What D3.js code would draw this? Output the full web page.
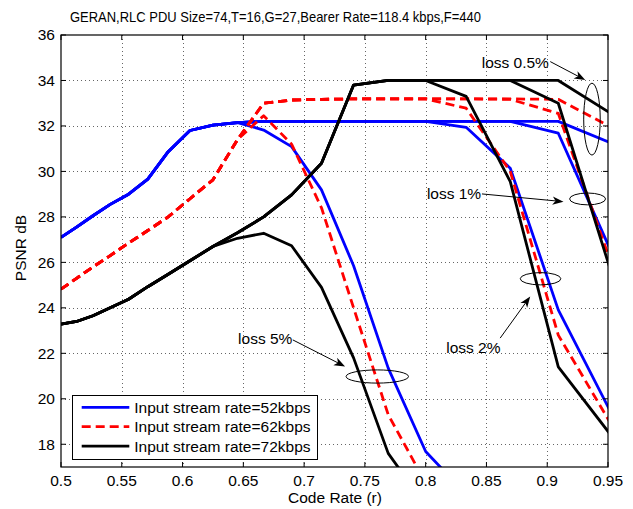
<!DOCTYPE html>
<html lang="en">
<head>
<meta charset="UTF-8">
<title>GERAN PSNR vs Code Rate</title>
<script src="https://d3js.org/d3.v7.min.js"></script>
<style>
  body { margin: 0; background: #fff; }
  svg text { font-family: "Liberation Sans", Arial, Helvetica, sans-serif; fill: #000; }
</style>
</head>
<body>
<div id="chart"></div>
<script>
// code rates 20/n, n = 40 ... 21
const codeRate = [0.5, 0.5128, 0.5263, 0.5405, 0.5556, 0.5714, 0.5882, 0.6061, 0.625, 0.6452,
                  0.6667, 0.6897, 0.7143, 0.7407, 0.7692, 0.8, 0.8333, 0.8696, 0.9091, 0.9524];

// PSNR (dB) per stream rate and loss rate
const blue05 = [27.1, 27.55, 28.05, 28.55, 29.0, 29.66, 30.87, 31.8, 32.04, 32.15, 32.2, 32.2, 32.2, 32.2, 32.2, 32.2, 32.2, 32.2, 32.2, 31.25];
const blue1  = [27.1, 27.55, 28.05, 28.55, 29.0, 29.66, 30.87, 31.8, 32.04, 32.15, 32.2, 32.2, 32.2, 32.2, 32.2, 32.2, 32.2, 32.2, 31.68, 26.5];
const blue2  = [27.1, 27.55, 28.05, 28.55, 29.0, 29.66, 30.87, 31.8, 32.04, 32.15, 32.2, 32.2, 32.2, 32.2, 32.2, 32.2, 31.94, 30.14, 23.91, 19.4];
const blue5  = [27.1, 27.55, 28.05, 28.55, 29.0, 29.66, 30.87, 31.8, 32.04, 32.15, 31.82, 31.09, 29.19, 25.85, 21.35, 17.68, 15.8, null, null, null];

const red05 = [24.82, 25.3, 25.8, 26.3, 26.85, 27.4, 28.0, 28.8, 29.63, 31.4, 33.0, 33.14, 33.17, 33.19, 33.19, 33.19, 33.19, 33.19, 33.17, 31.95];
const red1  = [24.82, 25.3, 25.8, 26.3, 26.85, 27.4, 28.0, 28.8, 29.63, 31.4, 33.0, 33.14, 33.17, 33.19, 33.19, 33.19, 33.19, 33.17, 32.55, 26.0];
const red2  = [24.82, 25.3, 25.8, 26.3, 26.85, 27.4, 28.0, 28.8, 29.63, 31.4, 33.0, 33.14, 33.17, 33.19, 33.19, 33.19, 32.78, 30.0, 22.8, 18.9];
const red5  = [24.82, 25.3, 25.8, 26.3, 26.85, 27.4, 28.0, 28.8, 29.63, 31.4, 32.45, 31.2, 28.4, 24.0, 19.3, 16.3, null, null, null, null];

const black05 = [23.28, 23.4, 23.65, 24.0, 24.38, 24.93, 25.48, 26.07, 26.7, 27.3, 28.0, 28.97, 30.36, 33.8, 34.0, 34.0, 34.0, 34.0, 34.0, 32.55];
const black1  = [23.28, 23.4, 23.65, 24.0, 24.38, 24.93, 25.48, 26.07, 26.7, 27.3, 28.0, 28.97, 30.36, 33.8, 34.0, 34.0, 34.0, 34.0, 33.0, 25.6];
const black2  = [23.28, 23.4, 23.65, 24.0, 24.38, 24.93, 25.48, 26.07, 26.7, 27.3, 28.0, 28.97, 30.36, 33.8, 34.0, 34.0, 33.3, 29.55, 21.4, 18.4];
const black5  = [23.28, 23.4, 23.65, 24.0, 24.38, 24.93, 25.48, 26.07, 26.7, 27.06, 27.28, 26.73, 24.9, 21.8, 17.6, 15.3, null, null, null, null];

const xTicks = [0.5, 0.55, 0.6, 0.65, 0.7, 0.75, 0.8, 0.85, 0.9, 0.95];
const yTicks = [18, 20, 22, 24, 26, 28, 30, 32, 34, 36];
const legendLabels = ["Input stream rate=52kbps", "Input stream rate=62kbps", "Input stream rate=72kbps"];

// annotation: label position, arrow start/tip, ellipse centre and radii (data units)
const lossLabels = ["loss 0.5%", "loss 1%", "loss 2%", "loss 5%"];
const labelPos   = [[0.8461, 34.54], [0.8010, 28.79], [0.8169, 22.02], [0.6457, 22.42]];
const arrowFrom  = [[0.9025, 34.83], [0.8463, 29.01], [0.8613, 22.67], [0.6907, 22.59]];
const arrowTo    = [[0.9313, 34.02], [0.9134, 28.67], [0.8860, 24.50], [0.7337, 21.42]];
const ellipseC   = [[0.9368, 32.30], [0.9332, 28.79], [0.8945, 25.28], [0.7602, 20.98]];
const ellipseR   = [[0.0068, 1.58], [0.0148, 0.26], [0.0167, 0.27], [0.0257, 0.29]];

const width = 633, height = 509;
const margin = {left: 61, right: 25, top: 35, bottom: 42};

const svg = d3.select("#chart").append("svg")
    .attr("width", width)
    .attr("height", height);

const x = d3.scaleLinear().domain([0.5, 0.95]).range([margin.left, width - margin.right]);
const y = d3.scaleLinear().domain([17, 36]).range([height - margin.bottom, margin.top]);

const fontSize = 15.5;

// grid
const grid = svg.append("g").attr("stroke", "#666").attr("stroke-width", 1).attr("stroke-dasharray", "1,3");
grid.selectAll("line.gx").data(xTicks.slice(1, -1)).enter().append("line")
    .attr("x1", d => Math.round(x(d)) + 0.5).attr("x2", d => Math.round(x(d)) + 0.5)
    .attr("y1", y(36)).attr("y2", y(17));
grid.selectAll("line.gy").data(yTicks.slice(0, -1)).enter().append("line")
    .attr("y1", d => Math.round(y(d)) + 0.5).attr("y2", d => Math.round(y(d)) + 0.5)
    .attr("x1", x(0.5)).attr("x2", x(0.95));

// clip for data lines
svg.append("clipPath").attr("id", "plot-clip").append("rect")
    .attr("x", x(0.5)).attr("y", y(36))
    .attr("width", x(0.95) - x(0.5)).attr("height", y(17) - y(36));

const line = d3.line()
    .defined(d => d[1] !== null)
    .x(d => x(d[0]))
    .y(d => y(d[1]));

const series = [
    {v: blue05, c: "#0000ff", dash: null},
    {v: blue1, c: "#0000ff", dash: null},
    {v: blue2, c: "#0000ff", dash: null},
    {v: blue5, c: "#0000ff", dash: null},
    {v: red05, c: "#ff0000", dash: "9,5"},
    {v: red1, c: "#ff0000", dash: "9,5"},
    {v: red2, c: "#ff0000", dash: "9,5"},
    {v: red5, c: "#ff0000", dash: "9,5"},
    {v: black05, c: "#000000", dash: null},
    {v: black1, c: "#000000", dash: null},
    {v: black2, c: "#000000", dash: null},
    {v: black5, c: "#000000", dash: null}
];

const plot = svg.append("g").attr("clip-path", "url(#plot-clip)");
plot.selectAll("path").data(series).enter().append("path")
    .attr("d", s => line(codeRate.map((r, i) => [r, s.v[i]])))
    .attr("fill", "none")
    .attr("stroke", s => s.c)
    .attr("stroke-width", 2.8)
    .attr("stroke-linejoin", "round")
    .attr("stroke-dasharray", s => s.dash);

// axes box
svg.append("rect")
    .attr("x", x(0.5)).attr("y", y(36))
    .attr("width", x(0.95) - x(0.5)).attr("height", y(17) - y(36))
    .attr("fill", "none").attr("stroke", "#000").attr("stroke-width", 1.2);

const tickLen = 5;
const ticks = svg.append("g").attr("stroke", "#000").attr("stroke-width", 1);
xTicks.forEach(t => {
    ticks.append("line").attr("x1", x(t)).attr("x2", x(t)).attr("y1", y(17)).attr("y2", y(17) - tickLen);
    ticks.append("line").attr("x1", x(t)).attr("x2", x(t)).attr("y1", y(36)).attr("y2", y(36) + tickLen);
});
yTicks.forEach(t => {
    ticks.append("line").attr("y1", y(t)).attr("y2", y(t)).attr("x1", x(0.5)).attr("x2", x(0.5) + tickLen);
    ticks.append("line").attr("y1", y(t)).attr("y2", y(t)).attr("x1", x(0.95)).attr("x2", x(0.95) - tickLen);
});

// tick labels
svg.append("g").selectAll("text").data(xTicks).enter().append("text")
    .attr("x", d => x(d)).attr("y", y(17) + 18.5)
    .attr("text-anchor", "middle").attr("font-size", fontSize)
    .text(d => d);
svg.append("g").selectAll("text").data(yTicks).enter().append("text")
    .attr("x", x(0.5) - 6).attr("y", d => y(d)).attr("dy", "0.35em")
    .attr("text-anchor", "end").attr("font-size", fontSize)
    .text(d => d);

// titles
svg.append("text").attr("x", 70).attr("y", 21.5).attr("font-size", 15)
    .attr("textLength", 411).attr("lengthAdjust", "spacingAndGlyphs")
    .text("GERAN,RLC PDU Size=74,T=16,G=27,Bearer Rate=118.4 kbps,F=440");
svg.append("text").attr("x", 335).attr("y", 503).attr("text-anchor", "middle").attr("font-size", fontSize)
    .text("Code Rate (r)");
svg.append("text").attr("transform", "translate(26,248) rotate(-90)").attr("text-anchor", "middle")
    .attr("font-size", fontSize).text("PSNR dB");

// annotations
const ann = svg.append("g");
lossLabels.forEach((lab, i) => {
    ann.append("text").attr("x", x(labelPos[i][0])).attr("y", y(labelPos[i][1]))
        .attr("font-size", fontSize).text(lab);
    ann.append("ellipse")
        .attr("cx", x(ellipseC[i][0])).attr("cy", y(ellipseC[i][1]))
        .attr("rx", x(0.5 + ellipseR[i][0]) - x(0.5))
        .attr("ry", y(17) - y(17 + ellipseR[i][1]))
        .attr("fill", "none").attr("stroke", "#000").attr("stroke-width", 1);
    const x1 = x(arrowFrom[i][0]), y1 = y(arrowFrom[i][1]);
    const x2 = x(arrowTo[i][0]), y2 = y(arrowTo[i][1]);
    const a = Math.atan2(y2 - y1, x2 - x1);
    const L = 11, W = 4.2, N = 8;
    const bx = x2 - L * Math.cos(a), by = y2 - L * Math.sin(a);
    const nx = x2 - N * Math.cos(a), ny = y2 - N * Math.sin(a);
    const px = -Math.sin(a), py = Math.cos(a);
    ann.append("line").attr("x1", x1).attr("y1", y1).attr("x2", nx).attr("y2", ny)
        .attr("stroke", "#000").attr("stroke-width", 1);
    ann.append("path")
        .attr("d", `M${x2},${y2}L${bx + W * px},${by + W * py}L${nx},${ny}L${bx - W * px},${by - W * py}Z`)
        .attr("fill", "#000");
});

// legend
const lg = svg.append("g");
lg.append("rect").attr("x", 72.5).attr("y", 395.5).attr("width", 245).attr("height", 64)
    .attr("fill", "#fff").attr("stroke", "#000").attr("stroke-width", 1);
const legendSeries = [series[0], series[4], series[8]];
legendLabels.forEach((lab, i) => {
    const ly = 407.3 + i * 19.4;
    lg.append("line").attr("x1", 81.7).attr("x2", 129.3).attr("y1", ly).attr("y2", ly)
        .attr("stroke", legendSeries[i].c).attr("stroke-width", 2.8)
        .attr("stroke-dasharray", legendSeries[i].dash);
    lg.append("text").attr("x", 134.3).attr("y", ly).attr("dy", "0.35em")
        .attr("font-size", fontSize).text(lab);
});
</script>
</body>
</html>
